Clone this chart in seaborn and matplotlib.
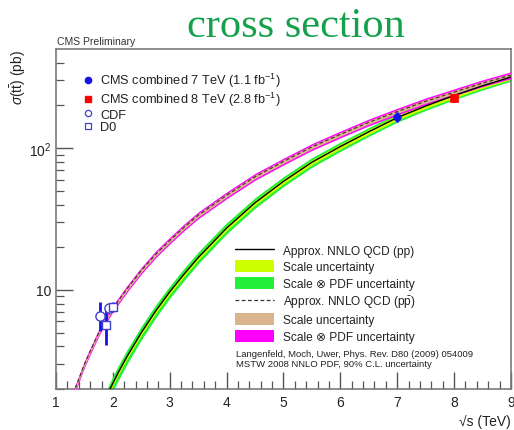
import numpy as np
import pandas as pd
import matplotlib
matplotlib.use("Agg")
import matplotlib.pyplot as plt
from matplotlib.lines import Line2D
from matplotlib.patches import Patch
from matplotlib.ticker import FixedLocator, MultipleLocator, NullFormatter
import seaborn as sns

# Approx. NNLO QCD predictions for pp -> t tbar (pb)
pp_sqrt_s = [1.9, 2.0, 2.1, 2.25, 2.5, 2.75, 3.0, 3.25, 3.5, 4.0, 4.5, 5.0, 5.5, 6.0, 6.5, 7.0, 7.5, 8.0, 8.5, 9.0]
pp_sigma = [1.81, 2.2, 2.64, 3.4, 5.0, 7.08, 9.7, 12.9, 16.9, 27.3, 41.2, 58.3, 79.5, 102.6, 130.4, 164, 198, 235, 275, 317]
pp_scale_rel = [0.04] * 20
pp_pdf_rel = [0.12, 0.12, 0.118, 0.115, 0.11, 0.105, 0.10, 0.098, 0.095, 0.09, 0.085, 0.08, 0.078, 0.075, 0.072, 0.07, 0.068, 0.067, 0.066, 0.065]

# Approx. NNLO QCD predictions for p pbar -> t tbar (pb)
ppbar_sqrt_s = [1.3, 1.4, 1.5, 1.6, 1.75, 1.85, 2.0, 2.25, 2.5, 2.75, 3.0, 3.25, 3.5, 4.0, 4.5, 5.0, 5.5, 6.0, 6.5, 7.0, 7.5, 8.0, 8.5, 9.0]
ppbar_sigma = [1.85, 2.35, 3.0, 3.69, 4.98, 5.89, 7.4, 10.2, 13.7, 17.8, 22.3, 27.6, 33.6, 46.5, 62.8, 80.5, 102, 125, 152, 181, 214, 248, 287, 327]
ppbar_scale_rel = [0.03] * 24
ppbar_pdf_rel = [0.055] * 24

# Measurements
cms7_x, cms7_y, cms7_err = [7.0], [165.8], [13.0]
cms8_x, cms8_y, cms8_err = [8.0], [227.0], [15.0]
cdf_x, cdf_y, cdf_lo, cdf_hi = [1.77, 1.93], [6.5, 7.5], [1.4, 0.5], [1.7, 0.5]
d0_x, d0_y, d0_lo, d0_hi = [1.88, 2.01], [5.7, 7.6], [1.6, 0.6], [1.6, 0.6]

legend_data = ["CMS combined 7 TeV (1.1 fb$^{-1}$)", "CMS combined 8 TeV (2.8 fb$^{-1}$)", "CDF", "D0"]
legend_theory = ["Approx. NNLO QCD (pp)", "Scale uncertainty", "Scale \u2297 PDF uncertainty",
                 "Approx. NNLO QCD (p$\\bar{\\mathrm{p}}$)", "Scale uncertainty", "Scale \u2297 PDF uncertainty"]
reference_lines = ["Langenfeld, Moch, Uwer, Phys. Rev. D80 (2009) 054009",
                   "MSTW 2008 NNLO PDF, 90% C.L. uncertainty"]

sns.set_theme(style="white")
plt.rcParams["font.family"] = ["Liberation Sans", "DejaVu Sans"]
plt.rcParams["mathtext.fontset"] = "custom"
plt.rcParams["mathtext.rm"] = "Liberation Sans"
plt.rcParams["mathtext.it"] = "Liberation Sans:italic"
plt.rcParams["mathtext.bf"] = "Liberation Sans:bold"

GREEN = "#22f03a"
YELLOW = "#ccff00"
TAN = "#d9b48c"
MAGENTA = "#ff00ff"
BLUE = "#1414e6"
OPEN_BLUE = "#4040d0"

fig = plt.figure(figsize=(5.14, 4.31), dpi=100)
ax = fig.add_axes([0.109, 0.095, 0.885, 0.789])

pp = pd.DataFrame({"sqrt_s": pp_sqrt_s, "sigma": pp_sigma,
                   "scale": pp_scale_rel, "pdf": pp_pdf_rel})
ppbar = pd.DataFrame({"sqrt_s": ppbar_sqrt_s, "sigma": ppbar_sigma,
                      "scale": ppbar_scale_rel, "pdf": ppbar_pdf_rel})

# uncertainty bands
ax.fill_between(pp.sqrt_s, pp.sigma * (1 - pp.pdf), pp.sigma * (1 + pp.pdf), color=GREEN, lw=0, zorder=1)
ax.fill_between(pp.sqrt_s, pp.sigma * (1 - pp.scale), pp.sigma * (1 + pp.scale), color=YELLOW, lw=0, zorder=2)
ax.fill_between(ppbar.sqrt_s, ppbar.sigma * (1 - ppbar.pdf), ppbar.sigma * (1 + ppbar.pdf), color=MAGENTA, lw=0, zorder=3)
ax.fill_between(ppbar.sqrt_s, ppbar.sigma * (1 - ppbar.scale), ppbar.sigma * (1 + ppbar.scale), color=TAN, lw=0, zorder=4)

# central predictions
sns.lineplot(data=pp, x="sqrt_s", y="sigma", ax=ax, color="black", lw=1.0, zorder=5, sort=True)
sns.lineplot(data=ppbar, x="sqrt_s", y="sigma", ax=ax, color="#553333", lw=0.9,
             dashes=False, zorder=5, sort=True, linestyle=(0, (3, 2)))

# measurements with error bars
ax.errorbar(cdf_x, cdf_y, yerr=[cdf_lo, cdf_hi], fmt="none", ecolor=BLUE, elinewidth=2, zorder=6)
ax.errorbar(d0_x, d0_y, yerr=[d0_lo, d0_hi], fmt="none", ecolor=BLUE, elinewidth=2, zorder=6)
ax.errorbar(cms7_x, cms7_y, yerr=[cms7_err], fmt="none", ecolor=BLUE, elinewidth=2, zorder=6)
ax.errorbar(cms8_x, cms8_y, yerr=[cms8_err], fmt="none", ecolor="red", elinewidth=2, zorder=6)
sns.scatterplot(x=cdf_x, y=cdf_y, ax=ax, marker="o", s=44, facecolor="white", edgecolor=OPEN_BLUE, linewidth=1.0, zorder=7)
sns.scatterplot(x=d0_x, y=d0_y, ax=ax, marker="s", s=40, facecolor="white", edgecolor=OPEN_BLUE, linewidth=1.0, zorder=7)
sns.scatterplot(x=cms7_x, y=cms7_y, ax=ax, marker="o", s=30, color=BLUE, edgecolor=BLUE, zorder=8)
sns.scatterplot(x=cms8_x, y=cms8_y, ax=ax, marker="s", s=40, color="red", edgecolor="red", zorder=8)

ax.set_yscale("log")
ax.set_xlim(1, 9)
ax.set_ylim(2, 500)

ax.xaxis.set_major_locator(MultipleLocator(1))
ax.xaxis.set_minor_locator(MultipleLocator(0.2))
ax.yaxis.set_major_locator(FixedLocator([10, 100]))
ax.set_yticklabels(["10", "10$^{2}$"])
ax.yaxis.set_minor_locator(FixedLocator([2, 3, 4, 5, 6, 7, 8, 9, 20, 30, 40, 50, 60, 70, 80, 90, 200, 300, 400]))
ax.yaxis.set_minor_formatter(NullFormatter())

ax.tick_params(axis="both", which="both", direction="in", colors="#555555", labelcolor="#222222",
               bottom=True, left=True, top=False, right=False)
ax.tick_params(axis="both", which="major", length=12, width=1.0, labelsize=10, pad=4)
ax.tick_params(axis="y", which="major", pad=3)
ax.tick_params(axis="both", which="minor", length=6, width=0.9)
for sp in ax.spines.values():
    sp.set_color("#7a7a7a")
    sp.set_linewidth(1.2)

ax.set_xlabel("")
ax.set_ylabel("")
fig.text(0.993, 0.004, "\u221as (TeV)", ha="right", va="bottom", fontsize=10, color="#222222")
fig.text(0.035, 0.884, "$\\sigma(\\mathrm{t\\bar{t}})$ (pb)", rotation=90, ha="center", va="top",
         fontsize=10, color="#222222")
fig.text(0.111, 0.902, "CMS Preliminary", ha="left", va="center", fontsize=7.5, color="#333333")
fig.text(0.576, 0.937, "cross section", ha="center", va="center", fontsize=30.5,
         family="Liberation Serif", color="#15a04c")

# legend for the measurements
data_handles = [
    Line2D([], [], ls="none", marker="o", ms=4.5, mfc=BLUE, mec=BLUE),
    Line2D([], [], ls="none", marker="s", ms=5, mfc="red", mec="red"),
    Line2D([], [], ls="none", marker="o", ms=4.5, mfc="white", mec=OPEN_BLUE, mew=0.9),
    Line2D([], [], ls="none", marker="s", ms=4.5, mfc="white", mec=OPEN_BLUE, mew=0.9),
]
leg1 = ax.legend(data_handles, legend_data, loc="upper left", bbox_to_anchor=(0.06, 0.935),
                 frameon=False, fontsize=9.2, handlelength=0.8, handletextpad=0.5,
                 labelspacing=0.05, borderpad=0, borderaxespad=0)
for t in leg1.get_texts():
    t.set_color("#222222")
ax.add_artist(leg1)

# legend for the predictions
theory_handles = [
    Line2D([], [], color="black", lw=1.0),
    Patch(facecolor=YELLOW, edgecolor="none"),
    Patch(facecolor=GREEN, edgecolor="none"),
    Line2D([], [], color="#333333", lw=0.9, ls=(0, (3, 2))),
    Patch(facecolor=TAN, edgecolor="none"),
    Patch(facecolor=MAGENTA, edgecolor="none"),
]
leg2 = ax.legend(theory_handles, legend_theory, loc="upper left", bbox_to_anchor=(0.393, 0.427),
                 frameon=False, fontsize=8.6, handlelength=3.3, handleheight=1.15, handletextpad=0.75,
                 labelspacing=0.3, borderpad=0, borderaxespad=0)
for t in leg2.get_texts():
    t.set_color("#222222")

ax.text(0.396, 0.106, reference_lines[0], transform=ax.transAxes, fontsize=6.8, color="#222222", va="center")
ax.text(0.396, 0.074, reference_lines[1], transform=ax.transAxes, fontsize=6.8, color="#222222", va="center")

fig.savefig("out.png", dpi=100)
